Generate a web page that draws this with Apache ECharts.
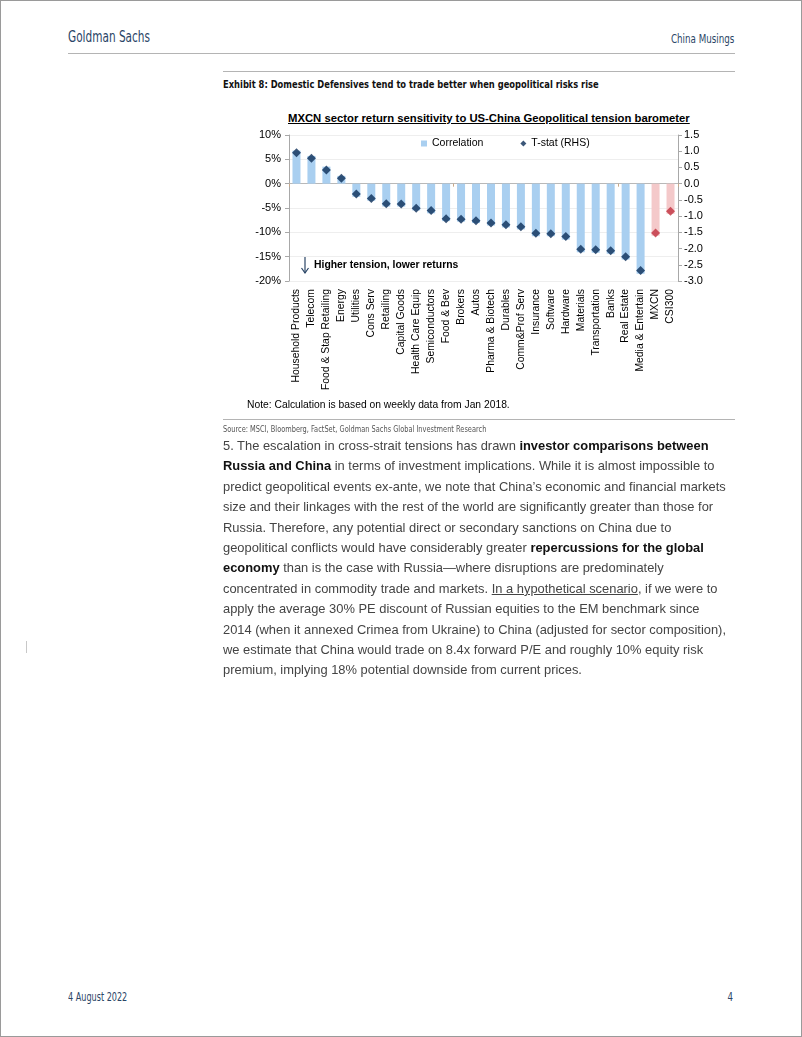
<!DOCTYPE html>
<html>
<head>
<meta charset="utf-8">
<script src="https://cdn.jsdelivr.net/npm/echarts@6/dist/echarts.min.js"></script>
<style>
  html, body { margin: 0; padding: 0; background: #fff; }
  #page { position: relative; width: 802px; height: 1037px; box-sizing: border-box; border: 1px solid #9a9a9a; overflow: hidden; }
  .cond { font-family: "DejaVu Sans Condensed", "Liberation Sans", sans-serif; font-stretch: condensed; }
  .abs { position: absolute; white-space: nowrap; }
  .sl { transform-origin: left center; }
  .sr { transform-origin: right center; }
  .rule { position: absolute; height: 0; border-top: 1.5px solid #b4b4b4; }
  #chart { position: absolute; left: 222px; top: 106px; width: 512px; height: 296px; }
  #body p { margin: 0; height: 20.4px; line-height: 20.4px; white-space: nowrap; }
  #body b { color: #111; }
</style>
</head>
<body>
<div id="page">
  <div class="abs cond sl" style="left:67px; top:27px; font-size:15px; color:#2a4566; transform:scaleX(0.78);">Goldman Sachs</div>
  <div class="abs cond sr" style="right:67px; top:31px; font-size:12px; color:#2a4566; transform:scaleX(0.81);">China Musings</div>
  <div class="rule" style="left:67px; width:667px; top:52px;"></div>

  <div class="rule" style="left:222px; width:512px; top:70px;"></div>
  <div class="abs cond sl" style="left:222px; top:77px; font-size:11px; font-weight:bold; color:#111; transform:scaleX(0.843);">Exhibit 8: Domestic Defensives tend to trade better when geopolitical risks rise</div>

  <div class="abs" style="left:287px; top:111px; font-family:'Liberation Sans',Arial,sans-serif; font-size:11.3px; font-weight:bold; text-decoration:underline; color:#000;">MXCN sector return sensitivity to US-China Geopolitical tension barometer</div>

  <div id="chart"></div>

  <div class="abs" style="left:246px; top:398px; font-family:'Liberation Sans',Arial,sans-serif; font-size:10.3px; color:#000;">Note: Calculation is based on weekly data from Jan 2018.</div>
  <div class="rule" style="left:222px; width:512px; top:418px;"></div>
  <div class="abs cond sl" style="left:222px; top:423px; font-size:8.5px; color:#555; transform:scaleX(0.866);">Source: MSCI, Bloomberg, FactSet, Goldman Sachs Global Investment Research</div>

  <div id="body" class="abs" style="left:222px; top:435px; font-family:'Liberation Sans',Arial,sans-serif; font-size:12.9px; color:#444;">
    <p>5. The escalation in cross-strait tensions has drawn <b>investor comparisons between</b></p>
    <p><b>Russia and China</b> in terms of investment implications. While it is almost impossible to</p>
    <p>predict geopolitical events ex-ante, we note that China’s economic and financial markets</p>
    <p>size and their linkages with the rest of the world are significantly greater than those for</p>
    <p>Russia. Therefore, any potential direct or secondary sanctions on China due to</p>
    <p>geopolitical conflicts would have considerably greater <b>repercussions for the global</b></p>
    <p><b>economy</b> than is the case with Russia—where disruptions are predominately</p>
    <p>concentrated in commodity trade and markets. <u>In a hypothetical scenario</u>, if we were to</p>
    <p>apply the average 30% PE discount of Russian equities to the EM benchmark since</p>
    <p>2014 (when it annexed Crimea from Ukraine) to China (adjusted for sector composition),</p>
    <p>we estimate that China would trade on 8.4x forward P/E and roughly 10% equity risk</p>
    <p>premium, implying 18% potential downside from current prices.</p>
  </div>

  <div style="position:absolute; left:25px; top:640px; width:0; height:12px; border-left:1px solid #c8c8c8;"></div>

  <div class="abs cond sl" style="left:67px; top:989px; font-size:12px; color:#2a4566; transform:scaleX(0.75);">4 August 2022</div>
  <div class="abs cond sr" style="right:68px; top:989px; font-size:12px; color:#2a4566; transform:scaleX(0.8);">4</div>
</div>

<script>
var sectors = ['Household Products', 'Telecom', 'Food & Stap Retailing', 'Energy', 'Utilities',
  'Cons Serv', 'Retailing', 'Capital Goods', 'Health Care Equip', 'Semiconductors', 'Food & Bev',
  'Brokers', 'Autos', 'Pharma & Biotech', 'Durables', 'Comm&Prof Serv', 'Insurance', 'Software',
  'Hardware', 'Materials', 'Transportation', 'Banks', 'Real Estate', 'Media & Entertain', 'MXCN', 'CSI300'];

// correlation, %
var correlation = [6.8, 5.7, 3.5, 1.6, -2.7, -3.5, -4.7, -4.7, -5.5, -6.1, -7.7, -7.8, -8.1,
  -8.6, -9.0, -9.4, -10.8, -10.8, -11.5, -14.1, -14.2, -14.4, -15.6, -18.5, -10.7, -6.2];

// t-stat, right axis
var tStat = [0.95, 0.78, 0.42, 0.17, -0.32, -0.46, -0.62, -0.63, -0.76, -0.83, -1.08, -1.10, -1.14,
  -1.21, -1.27, -1.33, -1.53, -1.54, -1.63, -2.02, -2.04, -2.07, -2.25, -2.68, -1.52, -0.85];

var benchmarks = ['MXCN', 'CSI300'];

var leftTicks = { min: -20, max: 10, interval: 5 };
var rightTicks = { min: -3, max: 1.5, interval: 0.5 };

var barBlue = '#a9cff0', barPink = '#f4c9ca';
var dotNavy = '#0b2d57', dotRed = '#c0313e';
var fontFam = "'Liberation Sans', Arial, sans-serif";

var myChart = echarts.init(document.getElementById('chart'));

var option = {
    animation: false,
    textStyle: { fontFamily: fontFam },
    grid: { left: 66, top: 28, width: 389, height: 146 },
    legend: {
        left: 193,
        top: 26,
        itemGap: 37,
        itemWidth: 6,
        itemHeight: 6,
        textStyle: { fontSize: 10.5, color: '#000', fontFamily: fontFam },
        data: [
            { name: 'Correlation', icon: 'rect' },
            { name: 'T-stat (RHS)', icon: 'diamond' }
        ]
    },
    xAxis: [{
        type: 'category',
        position: 'bottom',
        data: sectors,
        axisLine: { show: false, onZero: false },
        axisTick: { show: false },
        axisLabel: { rotate: 90, margin: 8, fontSize: 10.4, color: '#000', interval: 0 }
    }, {
        // zero line with its small ticks
        type: 'category',
        position: 'bottom',
        data: sectors,
        axisLine: { show: true, onZero: true, lineStyle: { color: '#b8b8b8', width: 1 } },
        axisTick: { show: true, length: 3, lineStyle: { color: '#c8a888' } },
        axisLabel: { show: false }
    }],
    yAxis: [{
        type: 'value',
        min: leftTicks.min, max: leftTicks.max, interval: leftTicks.interval,
        axisLine: { show: true, lineStyle: { color: '#a8a8a8' } },
        axisTick: { show: true, length: 4, lineStyle: { color: '#a8a8a8' } },
        axisLabel: { formatter: '{value}%', fontSize: 11, color: '#000', margin: 8 },
        splitLine: { show: true, lineStyle: { color: '#eeeeee' } }
    }, {
        type: 'value',
        position: 'right',
        min: rightTicks.min, max: rightTicks.max, interval: rightTicks.interval,
        axisLine: { show: true, lineStyle: { color: '#a8a8a8' } },
        axisTick: { show: true, length: 4, lineStyle: { color: '#a8a8a8' } },
        axisLabel: { formatter: function (v) { return v.toFixed(1); }, fontSize: 11, color: '#000', margin: 6 },
        splitLine: { show: false }
    }],
    series: [{
        name: 'Correlation',
        type: 'bar',
        xAxisIndex: 0,
        yAxisIndex: 0,
        barWidth: 8,
        itemStyle: { color: barBlue },
        data: correlation.map(function (v, i) {
            return benchmarks.indexOf(sectors[i]) >= 0 ? { value: v, itemStyle: { color: barPink } } : v;
        })
    }, {
        name: 'T-stat (RHS)',
        type: 'scatter',
        xAxisIndex: 0,
        yAxisIndex: 1,
        symbol: 'diamond',
        symbolSize: 9,
        itemStyle: { color: dotNavy },
        z: 5,
        data: tStat.map(function (v, i) {
            return benchmarks.indexOf(sectors[i]) >= 0 ? { value: v, itemStyle: { color: dotRed } } : v;
        })
    }],
    graphic: [{
        type: 'line',
        shape: { x1: 82, y1: 150, x2: 82, y2: 166 },
        style: { stroke: '#2a4566', lineWidth: 1.2 }
    }, {
        type: 'polyline',
        shape: { points: [[78.5, 161], [82, 166], [85.5, 161]] },
        style: { stroke: '#2a4566', lineWidth: 1.2, fill: null }
    }, {
        type: 'text',
        left: 91,
        top: 153,
        style: { text: 'Higher tension, lower returns', font: 'bold 10.4px ' + fontFam, fill: '#000' }
    }]
};
myChart.setOption(option);
</script>
</body>
</html>
